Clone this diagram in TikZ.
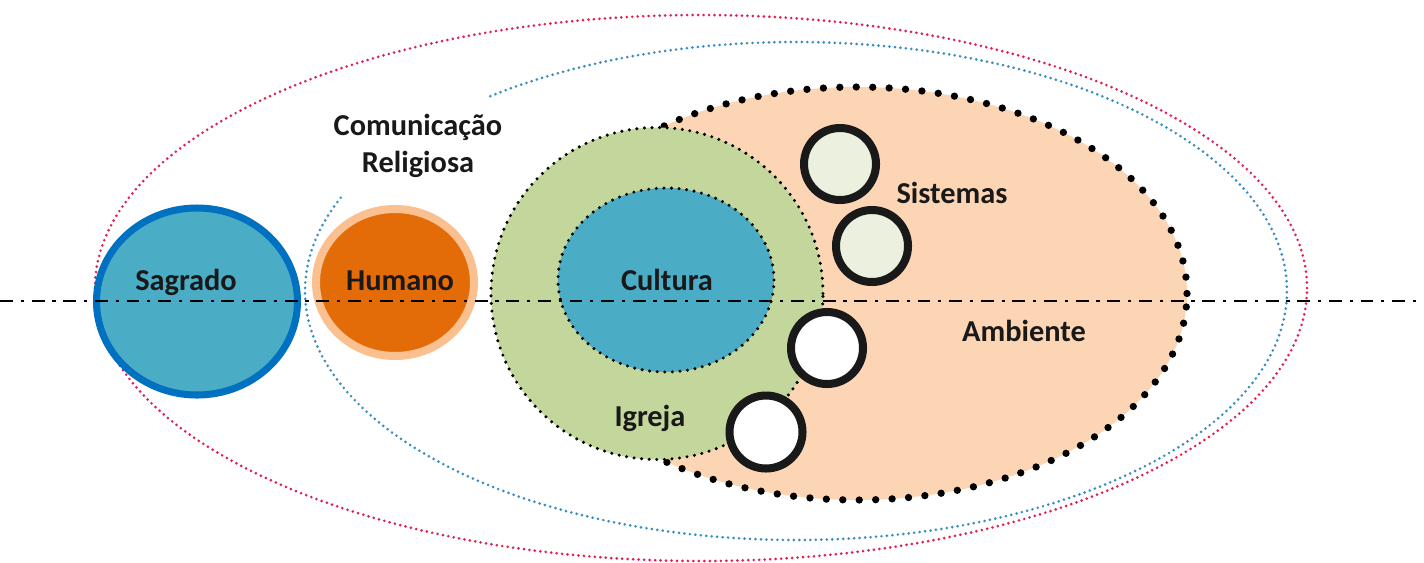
\documentclass[tikz,border=0pt]{standalone}
\usepackage{fontspec}
\setmainfont{Carlito}
\usepackage{xcolor}
\usepackage{tikz}
\usetikzlibrary{positioning,calc}

\definecolor{sagradofill}{HTML}{4BACC6}
\definecolor{sagradoline}{HTML}{0070C0}
\definecolor{humanofill}{HTML}{E36C09}
\definecolor{humanoline}{HTML}{FAC090}
\definecolor{igrejagreen}{HTML}{C3D69B}
\definecolor{ambientepeach}{HTML}{FCD5B5}
\definecolor{sistemasfill}{HTML}{EBF1DE}
\definecolor{reddot}{HTML}{E0204F}
\definecolor{bluedot}{HTML}{3A8EBE}

\begin{document}
\begin{tikzpicture}[x=0.025cm, y=0.025cm,
    lbl/.style={font=\bfseries\fontsize{21.6}{26.2}\selectfont, text=black!90, inner sep=0pt, anchor=base},
    thindots/.style={line width=2.1pt, line cap=round, dash pattern=on 0pt off 3.9pt},
    finedots/.style={draw=black, line width=2.4pt, line cap=round, dash pattern=on 0pt off 5.4pt},
    bigdots/.style={draw=black, line width=5.2pt, line cap=round, dash pattern=on 0pt off 11.7pt},
    ring/.style={draw=black!90, line width=5.7pt}]
    \useasboundingbox (0,0) rectangle (1424,-562);

    % Outer dotted ellipses
    \draw[thindots, reddot] (701,-288) ellipse [x radius=606, y radius=273];
    \draw[thindots, bluedot] (796,-291) ++(128.5:491 and 249)
        arc [start angle=128.5, end angle=-203, x radius=491, y radius=249];

    % Ambiente, Igreja, Cultura
    \filldraw[fill=ambientepeach, bigdots] (857,-293.5) ellipse [x radius=330, y radius=206.5];
    \filldraw[fill=igrejagreen, finedots] (657,-293.5) circle (166);
    \filldraw[fill=sagradofill, finedots] (666,-280) ellipse [x radius=108, y radius=92];

    % Sagrado and Humano
    \filldraw[fill=sagradofill, draw=sagradoline, line width=5pt] (197,-301.5) ellipse [x radius=100.5, y radius=93.5];
    \filldraw[fill=humanofill, draw=humanoline, line width=5.7pt] (395,-282.5) ellipse [x radius=79, y radius=73.5];

    % Sistemas
    \filldraw[fill=sistemasfill, ring] (840,-164) circle (36);
    \filldraw[fill=sistemasfill, ring] (872,-246) circle (36);
    \filldraw[fill=white, ring] (827,-348) circle (36);
    \filldraw[fill=white, ring] (766,-432) circle (36.5);

    % Axis
    \coordinate (axisW) at (0,-301);
    \coordinate (axisE) at (1424,-301);
    \draw[black, line width=2.1pt, dash pattern=on 9.2pt off 5.5pt on 2.3pt off 5.5pt] (axisW) -- (axisE);

    % Labels
    \node[lbl] (sagrado) at (186,-290) {Sagrado};
    \node[lbl] (humano) at (400,-290) {Humano};
    \node[lbl] (cultura) at (667,-290) {Cultura};
    \node[lbl] (igreja) at (650,-426) {Igreja};
    \node[lbl] (sistemas) at (952,-203) {Sistemas};
    \node[lbl] (ambiente) at (1024,-341) {Ambiente};
    \node[lbl, align=center] (comunicacao) at (418,-172) {Comunicação\\Religiosa};
\end{tikzpicture}
\end{document}
